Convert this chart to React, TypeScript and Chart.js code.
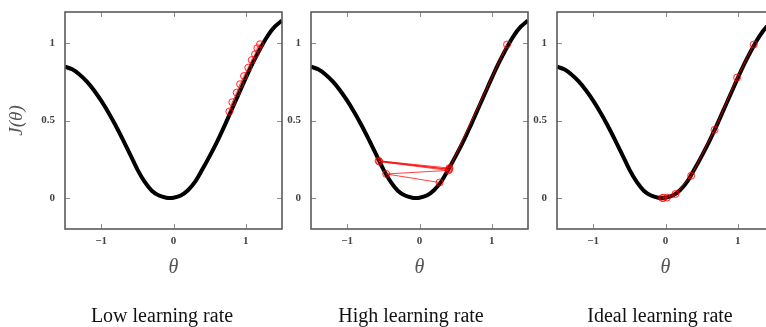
import React, { useEffect, useRef } from 'react';
import { Chart, registerables } from 'chart.js';

Chart.register(...registerables);

// Cost curve J(theta)
const curveTheta = [-1.5, -1.4, -1.3, -1.2, -1.1, -1.0, -0.9, -0.8, -0.7, -0.6, -0.5, -0.4, -0.3, -0.2, -0.1, -0.05, 0.0, 0.1, 0.2, 0.3, 0.4, 0.5, 0.6, 0.7, 0.8, 0.9, 1.0, 1.1, 1.2, 1.3, 1.4, 1.5];
const curveJ = [0.847, 0.83, 0.797, 0.752, 0.695, 0.628, 0.552, 0.468, 0.377, 0.282, 0.185, 0.105, 0.047, 0.016, 0.002, 0, 0.002, 0.016, 0.05, 0.105, 0.185, 0.27, 0.36, 0.46, 0.565, 0.67, 0.775, 0.875, 0.965, 1.045, 1.105, 1.145];

// Gradient descent steps
const lowTheta = [1.196, 1.159, 1.127, 1.081, 1.034, 0.975, 0.92, 0.874, 0.813, 0.772];
const lowJ = [0.992, 0.966, 0.927, 0.89, 0.841, 0.787, 0.734, 0.68, 0.618, 0.558];

const highTheta = [1.21, 0.415, -0.565, 0.41, -0.555, 0.4, -0.46, 0.277];
const highJ = [0.99, 0.193, 0.24, 0.185, 0.235, 0.178, 0.155, 0.1];

const idealTheta = [1.22, 0.99, 0.678, 0.355, 0.138, 0.02, -0.03, -0.045];
const idealJ = [0.99, 0.777, 0.44, 0.144, 0.026, 0.003, 0.0, 0.0];

const xTickVals = [-1, 0, 1];
const yTickVals = [0, 0.5, 1];
const xMin = -1.5;
const xMax = 1.5;
const yMin = -0.2;
const yMax = 1.2;

const captions = ['Low learning rate', 'High learning rate', 'Ideal learning rate'];
const xTitle = 'θ';
const yTitle = 'J(θ)';

const fmt = (v: number) => (v < 0 ? '\u2212' + Math.abs(v) : String(v));

const framePlugin = {
  id: 'frameTicks',
  afterDatasetsDraw(chart: any) {
    const { ctx, chartArea: a, scales } = chart;
    ctx.save();
    ctx.strokeStyle = '#8c8c8c';
    ctx.lineWidth = 1;
    const L = 5;
    ctx.beginPath();
    for (const v of xTickVals) {
      const px = Math.round(scales.x.getPixelForValue(v)) + 0.5;
      ctx.moveTo(px, a.top);
      ctx.lineTo(px, a.top + L);
      ctx.moveTo(px, a.bottom);
      ctx.lineTo(px, a.bottom - L);
    }
    for (const v of yTickVals) {
      const py = Math.round(scales.y.getPixelForValue(v)) + 0.5;
      ctx.moveTo(a.left, py);
      ctx.lineTo(a.left + L, py);
      ctx.moveTo(a.right, py);
      ctx.lineTo(a.right - L, py);
    }
    ctx.stroke();
    ctx.strokeStyle = '#5a5a5a';
    ctx.lineWidth = 1.6;
    ctx.strokeRect(a.left, a.top, a.right - a.left, a.bottom - a.top);
    ctx.restore();
  },
};

const tickFont = { family: 'Liberation Serif', size: 11, weight: 'bold' as const };

function Panel(props: { pathTheta: number[]; pathJ: number[]; showYTitle: boolean; left: number }) {
  const ref = useRef<HTMLCanvasElement>(null);
  useEffect(() => {
    const canvas = ref.current!;
    const chart = new Chart(canvas, {
      type: 'scatter',
      data: {
        datasets: [
          {
            data: props.pathTheta.map((t, i) => ({ x: t, y: props.pathJ[i] })),
            showLine: true,
            borderColor: 'rgba(255,0,0,0.75)',
            borderWidth: 1,
            pointRadius: 3.5,
            pointBorderColor: 'rgba(255,0,0,0.8)',
            pointBackgroundColor: 'rgba(255,0,0,0.08)',
            pointBorderWidth: 1,
            tension: 0,
          },
          {
            data: curveTheta.map((t, i) => ({ x: t, y: curveJ[i] })),
            showLine: true,
            borderColor: '#000',
            borderWidth: 4,
            pointRadius: 0,
            cubicInterpolationMode: 'monotone',
          },
        ],
      },
      options: {
        responsive: false,
        animation: false,
        events: [],
        layout: { padding: { top: 12, right: 8, left: 0, bottom: 47 } },
        plugins: { legend: { display: false }, tooltip: { enabled: false } },
        scales: {
          x: {
            type: 'linear',
            min: xMin,
            max: xMax,
            afterBuildTicks: (s: any) => {
              s.ticks = xTickVals.map((v) => ({ value: v }));
            },
            afterFit: (s: any) => {
              s.height = 51;
              s.paddingLeft = 0;
              s.paddingRight = 0;
            },
            grid: { display: false, drawTicks: false },
            border: { display: false },
            ticks: { color: '#444', font: tickFont, padding: 6, callback: (v: any) => fmt(Number(v)), maxRotation: 0 },
            title: {
              display: true,
              text: xTitle,
              color: '#555',
              font: { family: 'Liberation Serif', size: 20, style: 'italic' },
              padding: { top: 0, bottom: 0 },
            },
          },
          y: {
            type: 'linear',
            min: yMin,
            max: yMax,
            afterBuildTicks: (s: any) => {
              s.ticks = yTickVals.map((v) => ({ value: v }));
            },
            afterFit: (s: any) => {
              s.width = 65;
              s.paddingTop = 0;
              s.paddingBottom = 0;
            },
            grid: { display: false, drawTicks: false },
            border: { display: false },
            ticks: { color: '#444', font: tickFont, padding: 10, callback: (v: any) => fmt(Number(v)) },
            title: {
              display: props.showYTitle,
              text: yTitle,
              color: '#555',
              font: { family: 'Liberation Serif', size: 19, style: 'italic' },
              padding: { top: 6, bottom: 0 },
            },
          },
        },
      },
      plugins: [framePlugin],
    } as any);
    return () => chart.destroy();
  }, []);
  return (
    <canvas
      ref={ref}
      width={290}
      height={327}
      style={{ position: 'absolute', left: props.left, top: 0, width: 290, height: 327 }}
    />
  );
}

const captionCenters = [162, 411, 660];

export default function App() {
  return (
    <div style={{ position: 'absolute', left: 0, top: 0, width: 766, height: 327, overflow: 'hidden', background: '#fff' }}>
      <Panel pathTheta={lowTheta} pathJ={lowJ} showYTitle={true} left={0} />
      <Panel pathTheta={highTheta} pathJ={highJ} showYTitle={false} left={245.7} />
      <Panel pathTheta={idealTheta} pathJ={idealJ} showYTitle={false} left={491.5} />
      {captions.map((c, i) => (
        <div
          key={c}
          style={{
            position: 'absolute',
            left: captionCenters[i] - 110,
            width: 220,
            top: 304,
            height: 22,
            lineHeight: '22px',
            textAlign: 'center',
            fontFamily: 'Liberation Serif',
            fontSize: 20,
            color: '#111',
          }}
        >
          {c}
        </div>
      ))}
    </div>
  );
}
